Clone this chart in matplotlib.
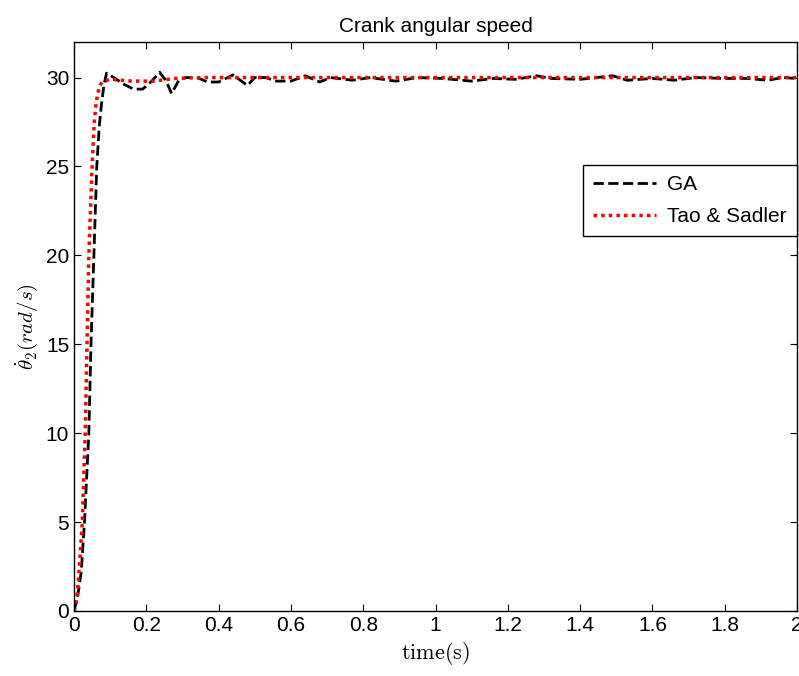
import matplotlib.pyplot as plt

plt.rcParams['font.family'] = ['Liberation Sans', 'DejaVu Sans']
plt.rcParams['mathtext.fontset'] = 'cm'

# GA response
ga_t = [0, 0.01, 0.02, 0.029, 0.035, 0.041, 0.047, 0.055, 0.063, 0.070, 0.076,
        0.083, 0.090, 0.11, 0.14, 0.165, 0.19, 0.215, 0.237, 0.255, 0.27, 0.29,
        0.31, 0.34, 0.37, 0.40, 0.44, 0.48, 0.50, 0.53, 0.56, 0.60, 0.64, 0.68,
        0.71, 0.77, 0.82, 0.89, 0.95, 1.02, 1.10, 1.16, 1.22, 1.28, 1.32, 1.40,
        1.49, 1.53, 1.60, 1.66, 1.72, 1.80, 1.86, 1.92, 1.96, 2.0]
ga_w = [0, 0.8, 2.2, 5, 7.5, 10, 15, 20, 25, 27.3, 28.5,
        29.6, 30.25, 30.0, 29.6, 29.35, 29.35, 29.8, 30.3, 29.8, 29.1, 29.85,
        30.0, 30.0, 29.75, 29.75, 30.15, 29.55, 30.0, 30.0, 29.8, 29.8, 30.1, 29.75,
        30.0, 29.85, 30.0, 29.8, 30.0, 29.95, 29.8, 29.95, 29.9, 30.1, 29.95, 29.9,
        30.1, 29.85, 29.95, 29.85, 30.0, 29.95, 29.95, 29.85, 30.0, 29.95]

# Tao & Sadler response
ts_t = [0, 0.005, 0.010, 0.016, 0.023, 0.031, 0.036, 0.041, 0.050, 0.056, 0.062,
        0.070, 0.078, 0.10, 0.16, 0.22, 0.28, 0.35, 0.5, 2.0]
ts_w = [0, 0.3, 1.2, 2.8, 5, 10, 15, 20, 25, 27.5, 28.7,
        29.5, 29.75, 29.9, 29.8, 29.8, 29.95, 30.0, 30.0, 30.0]

fs = 15

fig = plt.figure(figsize=(7.99, 6.76), dpi=100)
ax = fig.add_axes([74 / 799, 65 / 676, 723 / 799, 569 / 676])

ax.plot(ga_t, ga_w, color='black', linestyle='--', linewidth=2, label='GA')
ax.plot(ts_t, ts_w, color='red', linestyle=(0, (1, 1.2)), linewidth=2.5,
        label='Tao & Sadler')

ax.set_xlim(0, 2)
ax.set_ylim(0, 32)
ax.set_xticks([0, 0.2, 0.4, 0.6, 0.8, 1, 1.2, 1.4, 1.6, 1.8, 2])
ax.set_xticklabels(['0', '0.2', '0.4', '0.6', '0.8', '1', '1.2', '1.4', '1.6', '1.8', '2'])
ax.set_yticks([0, 5, 10, 15, 20, 25, 30])
ax.tick_params(direction='in', top=True, right=True, labelsize=fs, length=5, width=0.8)
for s in ax.spines.values():
    s.set_linewidth(1)

ax.set_title('Crank angular speed', fontsize=fs, pad=7)
ax.set_xlabel(r'$\mathrm{time(s)}$', fontsize=16)
ax.set_ylabel(r'$\dot{\theta}_2(rad/s)$', fontsize=15)

leg = ax.legend(loc='upper right', bbox_to_anchor=(1.0, 0.784), borderaxespad=0,
                fontsize=fs, handlelength=3.0, handletextpad=0.55, labelspacing=0.6,
                borderpad=0.5, fancybox=False, framealpha=1, edgecolor='black')
leg.get_frame().set_linewidth(1)

fig.savefig('out.png', dpi=100)
